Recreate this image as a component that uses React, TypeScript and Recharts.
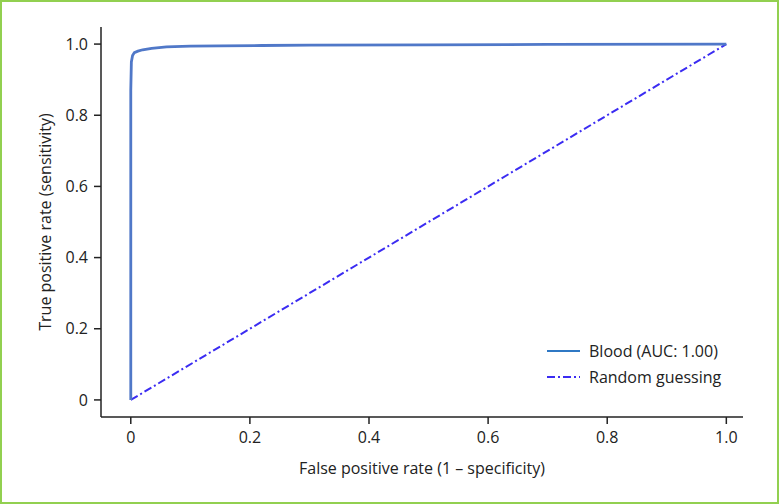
import { LineChart, Line, XAxis, YAxis } from 'recharts'

// ROC curve
const rocFpr = [0, 0, 0, 0.001, 0.003, 0.006, 0.012, 0.02, 0.035, 0.06, 0.1, 0.15, 0.22, 0.3, 0.5, 0.7, 1.0]
const rocTpr = [0, 0.5, 0.87, 0.95, 0.968, 0.976, 0.98, 0.984, 0.988, 0.992, 0.994, 0.995, 0.996, 0.997, 0.998, 0.999, 1.0]

const chanceFpr = [0, 1]
const chanceTpr = [0, 1]

const TICKS = [0, 0.2, 0.4, 0.6, 0.8, 1.0]
const SERIES = ['Blood (AUC: 1.00)', 'Random guessing']

const rocData = rocFpr.map((x, i) => ({ x, y: rocTpr[i] }))
const chanceData = chanceFpr.map((x, i) => ({ x, y: chanceTpr[i] }))

const FONT = '"Open Sans", "Noto Sans", sans-serif'
const FS = 16
const fmt = (v: number) => (v === 0 ? '0' : v.toFixed(1))

function LegendBox() {
  return (
    <div style={{ position: 'absolute', left: 547, top: 338, fontFamily: FONT, fontSize: FS, color: '#222', lineHeight: '26px' }}>
      <div style={{ display: 'flex', alignItems: 'center', height: 26 }}>
        <svg width={42} height={10}>
          <line x1={0} y1={5} x2={33} y2={5} stroke="#2f78c4" strokeWidth={2} />
        </svg>
        <span>{SERIES[0]}</span>
      </div>
      <div style={{ display: 'flex', alignItems: 'center', height: 26 }}>
        <svg width={42} height={10}>
          <line x1={0} y1={5} x2={33} y2={5} stroke="#3b2cf2" strokeWidth={2} strokeDasharray="8 3 2 3" />
        </svg>
        <span>{SERIES[1]}</span>
      </div>
    </div>
  )
}

export default function App() {
  return (
    <div style={{ position: 'absolute', left: 0, top: 0, width: 779, height: 504, background: '#fff' }}>
      <LineChart width={779} height={504} margin={{ top: 27, right: 36, bottom: 27, left: 41 }}>
        <XAxis
          type="number"
          dataKey="x"
          domain={[-0.05, 1.028]}
          ticks={TICKS}
          tickFormatter={fmt}
          allowDataOverflow
          height={60}
          tickSize={7}
          tickMargin={8}
          stroke="#222"
          strokeWidth={1.5}
          tick={{ fill: '#222', fontSize: FS, fontFamily: FONT }}
          label={{ value: 'False positive rate (1 – specificity)', position: 'insideBottom', offset: 3, fill: '#222', fontSize: FS, fontFamily: FONT }}
        />
        <YAxis
          type="number"
          dataKey="y"
          domain={[-0.048, 1.048]}
          ticks={TICKS}
          tickFormatter={fmt}
          allowDataOverflow
          width={60}
          tickSize={7}
          tickMargin={6}
          stroke="#222"
          strokeWidth={1.5}
          tick={{ fill: '#222', fontSize: FS, fontFamily: FONT }}
          label={{ value: 'True positive rate (sensitivity)', angle: -90, position: 'insideLeft', offset: 4, fill: '#222', fontSize: FS, fontFamily: FONT, style: { textAnchor: 'middle' } }}
        />
        <Line data={chanceData} dataKey="y" type="linear" stroke="#3b2cf2" strokeWidth={2} strokeDasharray="8 3 2 3" dot={false} isAnimationActive={false} />
        <Line data={rocData} dataKey="y" type="linear" stroke="#5078c8" strokeWidth={2.8} dot={false} isAnimationActive={false} />
      </LineChart>
      <LegendBox />
      <div style={{ position: 'absolute', inset: 0, border: '2px solid #92d050', pointerEvents: 'none' }} />
    </div>
  )
}
